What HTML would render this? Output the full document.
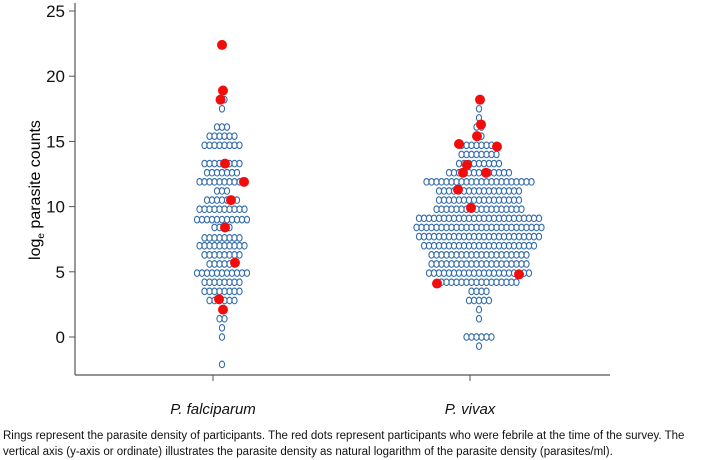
<!DOCTYPE html>
<html><head><meta charset="utf-8"><style>
body{margin:0;background:#fff;width:709px;height:457px;overflow:hidden;font-family:"Liberation Sans",sans-serif}
.cap{position:absolute;left:3px;top:428px;font-size:11.5px;line-height:16px;color:#111;width:706px;white-space:nowrap}
</style></head><body>
<svg id="chart" width="709" height="425" style="position:absolute;left:0;top:0">
<line x1="75" y1="3" x2="75" y2="375" stroke="#555" stroke-width="1.2"/>
<line x1="75" y1="375" x2="610" y2="375" stroke="#555" stroke-width="1.2"/>
<text transform="translate(40,190) rotate(-90)" text-anchor="middle" font-size="16">log<tspan font-size="10" dy="4">e</tspan><tspan dy="-4"> parasite counts</tspan></text>
<g id="yt"></g><g id="xt"></g><g id="dots"></g>
</svg>
<div class="cap">Rings represent the parasite density of participants. The red dots represent participants who were febrile at the time of the survey. The<br>vertical axis (y-axis or ordinate) illustrates the parasite density as natural logarithm of the parasite density (parasites/ml).</div>
<script>
const categories=["P. falciparum","P. vivax"];
const yTicks=[0,5,10,15,20,25];
// rows: [value, count]
const falcRows=[[18.2,2],[17.5,1],[16.1,3],[15.4,6],[14.7,8],[13.3,8],[12.6,7],[11.9,10],[11.2,3],[10.5,7],[9.8,10],[9.0,11],[8.4,4],[7.6,8],[7.0,10],[6.3,8],[5.6,6],[4.9,11],[4.2,8],[3.5,8],[2.8,6],[1.4,2],[0.7,1],[0,1],[-2.1,1]];
const vivaxRows=[[17.5,1],[16.8,1],[16.1,2],[15.4,2],[14.7,8],[14.0,8],[13.3,9],[12.6,13],[11.9,22],[11.2,17],[10.5,17],[9.8,18],[9.1,25],[8.4,26],[7.7,25],[7.0,23],[6.3,20],[5.6,20],[4.9,21],[4.2,16],[3.5,4],[2.8,5],[2.1,1],[1.4,1],[0,6],[-0.7,1]];
// febrile red points: [value, offset in column units]
const falcRed=[[22.4,0],[18.9,0.2],[18.2,-0.3],[13.3,0.6],[11.9,4.4],[10.5,1.8],[8.4,0.6],[5.7,2.6],[2.9,-0.6],[2.1,0.2]];
const vivaxRed=[[18.2,0.2],[16.3,0.4],[15.4,-0.4],[14.8,-4],[14.6,3.6],[13.2,-2.4],[12.6,-3.2],[12.6,1.4],[11.3,-4.2],[9.9,-1.6],[4.8,8],[4.1,-8.4]];
const Y=v=>337-v*13.04;
const X=i=>[222,479][i];
const colW=5;
const ns="http://www.w3.org/2000/svg";
function mk(t,a,p){const e=document.createElementNS(ns,t);for(const k in a)e.setAttribute(k,a[k]);p.appendChild(e);return e;}
const yt=document.getElementById('yt');
yTicks.forEach(v=>{
 const l=mk('line',{x1:69,x2:75,y1:Y(v),y2:Y(v),stroke:'#555'},yt);
 
 
 const t=mk('text',{x:65,y:Y(v)+6,'text-anchor':'end','font-size':17,fill:'#111'},yt);
 
 
 t.textContent=v;
});
const xt=document.getElementById('xt');
categories.forEach((c,i)=>{
 const l=mk('line',{x1:X(i)-9,x2:X(i)-9,y1:375,y2:381,stroke:'#555'},xt);
 
 
 const t=mk('text',{x:X(i)-9,y:414,'text-anchor':'middle','font-size':15,'font-style':'italic',fill:'#111'},xt);
 
 
 t.textContent=c;
});
const dots=document.getElementById('dots');
[falcRows,vivaxRows].forEach((rows,i)=>{
 rows.forEach(([v,n])=>{
  for(let k=0;k<n;k++){
   const cx=X(i)+(k-(n-1)/2)*colW;
   const e=mk('ellipse',{cx:cx,cy:Y(v),rx:2.6,ry:3.3,fill:'none',stroke:'#336cab','stroke-width':1.1},dots);
   
   
  }
 });
});
[falcRed,vivaxRed].forEach((pts,i)=>{
 pts.forEach(([v,o])=>{
  const e=mk('circle',{cx:X(i)+o*colW,cy:Y(v),r:5,fill:'#f20d0d'},dots);
  
  
 });
});
</script>
</body></html>
